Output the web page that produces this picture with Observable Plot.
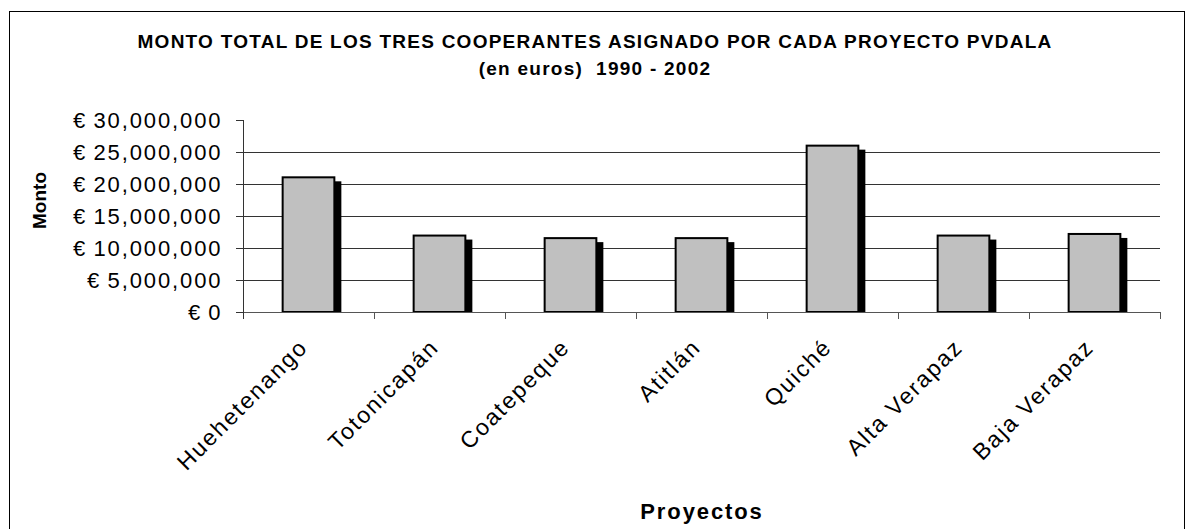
<!DOCTYPE html>
<html>
<head>
<meta charset="utf-8">
<script src="https://cdn.jsdelivr.net/npm/d3@7"></script>
<script src="https://cdn.jsdelivr.net/npm/@observablehq/plot@0.6"></script>
<style>
  html, body { margin: 0; padding: 0; background: #fff; }
  #wrap { position: relative; width: 1188px; height: 529px; overflow: hidden; }
  #border { position: absolute; left: 9px; top: 11px; width: 1176px; height: 560px; border: 1.5px solid #000; box-sizing: border-box; pointer-events: none; }
  svg { font-family: "Liberation Sans", Arial, sans-serif; }
  g[aria-label="y-axis tick label"] text { letter-spacing: 1.9px; }
  g[aria-label="x-axis tick label"] text { letter-spacing: 1.9px; }
</style>
</head>
<body>
<div id="wrap"><div id="border"></div></div>
<script>
const categories = ["Huehetenango", "Totonicapán", "Coatepeque", "Atitlán", "Quiché", "Alta Verapaz", "Baja Verapaz"];
const values = [21200000, 12100000, 11700000, 11700000, 26150000, 12100000, 12350000];
const yTicks = [0, 5000000, 10000000, 15000000, 20000000, 25000000, 30000000];
const titleLine1 = ["MONTO TOTAL DE LOS TRES COOPERANTES ASIGNADO POR CADA PROYECTO PVDALA"];
const titleLine2 = ["(en euros)  1990 - 2002"];
const xTitle = ["Proyectos"];
const yTitle = ["Monto"];

const data = categories.map((c, i) => ({proyecto: c, monto: values[i]}));

const W = 1188, H = 529;
const mL = 243, mR = 28, mT = 120, mB = 217;
const bw = (W - mL - mR) / categories.length;
const yMax = yTicks[yTicks.length - 1];
const pxToData = yMax / (H - mT - mB);
const tickLen = 7 * pxToData;
const barInset = bw * 0.295;

const titleStyle = {text: d => d, frameAnchor: "top", textAnchor: "middle", lineAnchor: "middle",
  fontSize: 19, fontWeight: "bold", fill: "#000", dx: -107};

const chart = Plot.plot({
  width: W, height: H,
  marginLeft: mL, marginRight: mR, marginTop: mT, marginBottom: mB,
  style: {fontFamily: '"Liberation Sans", Arial, sans-serif', color: "#000", background: "#fff"},
  x: {type: "band", domain: categories, padding: 0, label: null},
  y: {domain: [0, yMax], label: null},
  marks: [
    Plot.ruleY(yTicks.filter(t => t > 0 && t < yMax), {stroke: "#333", strokeWidth: 1}),
    Plot.barY(data, {x: "proyecto", y: "monto", fill: "#000", insetLeft: barInset + 6, insetRight: barInset - 6, insetTop: 5}),
    Plot.barY(data, {x: "proyecto", y: "monto", fill: "#c0c0c0", stroke: "#000", strokeWidth: 2, insetLeft: barInset + 1, insetRight: barInset + 1, insetTop: 1}),
    Plot.ruleY([0], {stroke: "#555", strokeWidth: 1}),
    Plot.ruleX([categories[0]], {dx: -bw / 2, y1: -tickLen, y2: yMax, stroke: "#333", strokeWidth: 1}),
    Plot.ruleX(categories, {x: d => d, dx: bw / 2, y1: -tickLen, y2: 0, stroke: "#555", strokeWidth: 1}),
    Plot.axisY({ticks: yTicks, tickSize: 7, tickPadding: 14, fontSize: 22, stroke: "#333",
      tickFormat: d => "€\u2009" + d3.format(",")(d), label: null}),
    Plot.axisX({tickSize: 0, tickRotate: -45, tickPadding: 31, fontSize: 23, dx: -5, label: null}),
    Plot.text(titleLine1, {...titleStyle, dy: -79}),
    Plot.text(titleLine2, {...titleStyle, dy: -52}),
    Plot.text(xTitle, {text: d => d, frameAnchor: "bottom", textAnchor: "middle", lineAnchor: "middle", dy: 199, fontSize: 22, fontWeight: "bold", fill: "#000"}),
    Plot.text(yTitle, {text: d => d, frameAnchor: "left", textAnchor: "middle", lineAnchor: "middle", dx: -204, dy: -16, rotate: -90, fontSize: 19, fontWeight: "bold", fill: "#000"})
  ]
});

const textGroups = chart.querySelectorAll('g[aria-label="text"]');
if (textGroups[0]) textGroups[0].querySelectorAll("text").forEach(t => t.style.letterSpacing = "1.25px");
if (textGroups[1]) textGroups[1].querySelectorAll("text").forEach(t => t.style.letterSpacing = "1.25px");
if (textGroups[2]) textGroups[2].querySelectorAll("text").forEach(t => t.style.letterSpacing = "1.9px");

document.getElementById("wrap").prepend(chart);
</script>
</body>
</html>
